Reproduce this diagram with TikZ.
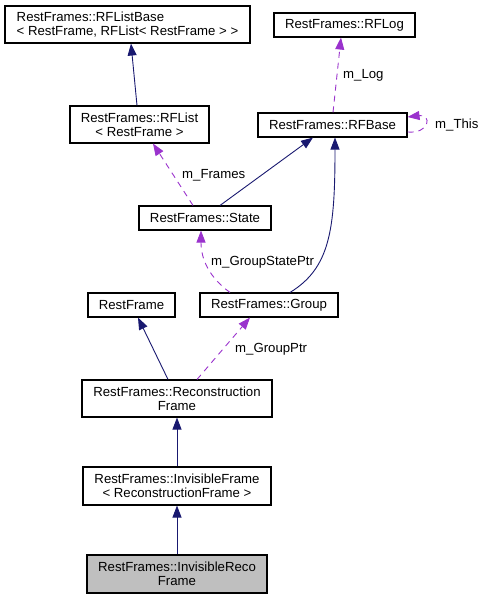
\documentclass[tikz,border=0pt]{standalone}
\usepackage{fontspec}
\setmainfont{Liberation Sans}
\usetikzlibrary{arrows.meta}
\definecolor{navyc}{HTML}{191970}
\definecolor{purp}{HTML}{9A32CD}
\definecolor{grayfill}{HTML}{BFBFBF}
\tikzset{
  box/.style={draw=black, line width=1.1pt, fill=white, inner sep=0pt, align=center,
    font=\fontsize{13.2}{14}\selectfont},
  inh/.style={draw=navyc, line width=0.9pt, -{Triangle[length=12pt,width=9pt]}, navyc},
  use/.style={draw=purp, line width=0.9pt, dash pattern=on 6pt off 5pt, -{Triangle[length=12pt,width=9pt]}, purp},
  lbl/.style={anchor=west, inner sep=0pt, font=\fontsize{13.2}{14}\selectfont}
}
\begin{document}
\begin{tikzpicture}[x=1pt,y=-1pt]
\useasboundingbox (0,0) rectangle (485,599);
\node[box, minimum width=245pt, minimum height=37pt, align=left] (base) at (127.5,24.5)
  {RestFrames::RFListBase\\< RestFrame, RFList< RestFrame > >};
\node[box, minimum width=141pt, minimum height=24pt] (log) at (344.5,25) {RestFrames::RFLog};
\node[box, minimum width=139pt, minimum height=37pt] (list) at (139.5,124.5) {RestFrames::RFList\\< RestFrame >};
\node[box, minimum width=149pt, minimum height=24pt] (rfbase) at (332.5,125) {RestFrames::RFBase};
\node[box, minimum width=132pt, minimum height=24pt] (state) at (205,218) {RestFrames::State};
\node[box, minimum width=87pt, minimum height=24pt] (rf) at (131.5,305) {RestFrame};
\node[box, minimum width=138pt, minimum height=24pt] (group) at (269,305) {RestFrames::Group};
\node[box, minimum width=190pt, minimum height=37pt] (recon) at (177,398.5) {RestFrames::Reconstruction\\Frame};
\node[box, minimum width=188pt, minimum height=38pt] (invf) at (177,486) {RestFrames::InvisibleFrame\\< ReconstructionFrame >};
\node[box, minimum width=180pt, minimum height=38pt, fill=grayfill] (invr) at (177,574) {RestFrames::InvisibleReco\\Frame};

% inheritance
\draw[inh] ([xshift=-2.5pt]list.north) -- ([xshift=3.5pt]base.south);
\draw[inh] ([xshift=15pt]state.north) -- ([xshift=-19.5pt]rfbase.south);
\draw[inh] ([xshift=21pt]group.north) .. controls (330,268) and (335,230) .. ([xshift=2.5pt]rfbase.south);
\draw[inh] ([xshift=-9pt]recon.north) -- ([xshift=6.5pt]rf.south);
\draw[inh] (invf.north) -- (recon.south);
\draw[inh] (invr.north) -- (invf.south);

% usage
\draw[use] ([xshift=0.5pt]rfbase.north) -- ([xshift=-3.5pt]log.south);
\node[lbl] (lLog) at (343,75) {m\_Log};
\draw[use] ([yshift=-7pt]rfbase.east) .. controls (430,134) and (432,114) .. ([yshift=8pt]rfbase.east);
\node[lbl] (lThis) at (435,125) {m\_This};
\draw[use] ([xshift=-12pt]state.north) -- ([xshift=13.5pt]list.south);
\node[lbl] (lFrames) at (182,175) {m\_Frames};
\draw[use] ([xshift=-39pt]group.north) .. controls (210,278) and (201,260) .. ([xshift=-4pt]state.south);
\node[lbl] (lGSP) at (211,262) {m\_GroupStatePtr};
\draw[use] ([xshift=20pt]recon.north) -- ([xshift=-19pt]group.south);
\node[lbl] (lGP) at (235,349) {m\_GroupPtr};
\end{tikzpicture}
\end{document}
